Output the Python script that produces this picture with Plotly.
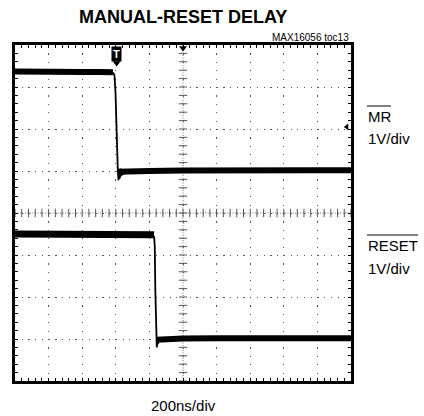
import numpy as np
import plotly.graph_objects as go

# ---------------- data (read from the scope shot) ----------------
TIME_PER_DIV_NS = 200      # 200ns/div
VOLT_PER_DIV = 1.0         # 1V/div both channels
MR_GND_DIV = 1.0           # MR ground marker position (divisions from centre)
RST_GND_DIV = -3.0         # RESET ground position

# MR channel (ns, V)
mr_high_t = [-1000, -900, -800, -700, -600, -500, -417]
mr_high_v = [2.37, 2.36, 2.37, 2.36, 2.36, 2.36, 2.35]
mr_edge_t = [-417, -408, -402, -398, -393, -388, -384, -380, -376, -372, -367, -362, -356, -348, -338, -325]
mr_edge_v = [2.35, 2.28, 1.9, 1.2, 0.55, 0.02, -0.22, -0.05, -0.18, 0.06, -0.12, 0.04, -0.08, 0.02, -0.04, 0.0]
mr_low_t = [-386, -300, -200, 0, 200, 400, 600, 800, 1000]
mr_low_v = [-0.02, 0.0, 0.0, 0.01, 0.02, 0.02, 0.02, 0.02, 0.02]

# RESET channel (ns, V)
rst_high_t = [-1000, -800, -600, -400, -250, -172]
rst_high_v = [2.50, 2.50, 2.49, 2.48, 2.48, 2.48]
rst_edge_t = [-172, -168, -165, -162, -159, -156, -153, -149, -145, -140]
rst_edge_v = [2.45, 2.2, 1.2, 0.3, -0.02, -0.2, -0.04, -0.12, -0.02, 0.0]
rst_low_t = [-158, -100, 0, 200, 400, 600, 800, 1000]
rst_low_v = [-0.02, 0.0, 0.01, 0.02, 0.02, 0.02, 0.02, 0.02]

TRIGGER_T = -395           # trigger point marker (ns)
TRIGGER_LEVEL_V = 1.05     # trigger level on MR channel (V)


def to_div(v, gnd):
    return [x / VOLT_PER_DIV + gnd for x in v]


fig = go.Figure()

# grid centre cross-hair with fine ticks
cx_y = np.arange(-4, 4.001, 0.2)
cy_x = np.arange(-1000, 1000.1, TIME_PER_DIV_NS / 5)
fig.add_trace(go.Scatter(x=[0, 0], y=[-4, 4], mode="lines",
                         line=dict(color="#777", width=1, dash="1px,1.5px"),
                         hoverinfo="skip", showlegend=False))
fig.add_trace(go.Scatter(x=[-1000, 1000], y=[0, 0], mode="lines",
                         line=dict(color="#777", width=1, dash="1px,1.5px"),
                         hoverinfo="skip", showlegend=False))
fig.add_trace(go.Scatter(x=[0] * len(cx_y), y=cx_y, mode="markers",
                         marker=dict(symbol="line-ew", size=6,
                                     line=dict(color="#555", width=1)),
                         hoverinfo="skip", showlegend=False))
fig.add_trace(go.Scatter(x=cy_x, y=[0] * len(cy_x), mode="markers",
                         marker=dict(symbol="line-ns", size=6,
                                     line=dict(color="#555", width=1)),
                         hoverinfo="skip", showlegend=False))

# waveforms
def add_wave(t, v, gnd, width):
    fig.add_trace(go.Scatter(x=t, y=to_div(v, gnd), mode="lines",
                             line=dict(color="black", width=width),
                             hoverinfo="skip", showlegend=False))

add_wave(mr_high_t, mr_high_v, MR_GND_DIV, 6)
add_wave(mr_edge_t, mr_edge_v, MR_GND_DIV, 1.8)
add_wave(mr_low_t, mr_low_v, MR_GND_DIV, 6)
add_wave(rst_high_t, rst_high_v, RST_GND_DIV, 7)
add_wave(rst_edge_t, rst_edge_v, RST_GND_DIV, 1.8)
add_wave(rst_low_t, rst_low_v, RST_GND_DIV, 6)

# markers: centre-top triangle, trigger level arrow
fig.add_trace(go.Scatter(x=[0], y=[3.93], mode="markers",
                         marker=dict(symbol="triangle-down", size=7, color="black"),
                         cliponaxis=False, hoverinfo="skip", showlegend=False))
fig.add_trace(go.Scatter(x=[975], y=[TRIGGER_LEVEL_V / VOLT_PER_DIV + MR_GND_DIV], mode="markers",
                         marker=dict(symbol="triangle-left", size=6, color="black"),
                         cliponaxis=False, hoverinfo="skip", showlegend=False))
fig.add_trace(go.Scatter(x=[TRIGGER_T], y=[3.57], mode="markers",
                         marker=dict(symbol="triangle-down", size=7, color="black"),
                         cliponaxis=False, hoverinfo="skip", showlegend=False))

FONT = "Arial, Liberation Sans, sans-serif"

annotations = [
    dict(x=TRIGGER_T, y=3.78, xref="x", yref="y", text="<b>T</b>", showarrow=False,
         font=dict(family=FONT, size=11, color="white"), bgcolor="black", borderpad=1),
    dict(x=0.5, y=1.0, xref="paper", yref="paper", yshift=28, text="<b>MANUAL-RESET DELAY</b>",
         showarrow=False, font=dict(family=FONT, size=18, color="black"),
         xanchor="center", yanchor="middle"),
    dict(x=1.0, y=1.0, xref="paper", yref="paper", yshift=8, text="MAX16056 toc13",
         showarrow=False, font=dict(family=FONT, size=10, color="black"),
         xanchor="right", yanchor="middle"),
    dict(x=0.5, y=0.0, xref="paper", yref="paper", yshift=-24, text="200ns/div",
         showarrow=False, font=dict(family=FONT, size=15, color="black"),
         xanchor="center", yanchor="middle"),
    dict(x=1.0, y=(381 - 116) / 336, xref="paper", yref="paper", xshift=15, text="MR",
         showarrow=False, font=dict(family=FONT, size=15, color="black"),
         xanchor="left", yanchor="middle"),
    dict(x=1.0, y=(381 - 138) / 336, xref="paper", yref="paper", xshift=15, text="1V/div",
         showarrow=False, font=dict(family=FONT, size=15, color="black"),
         xanchor="left", yanchor="middle"),
    dict(x=1.0, y=(381 - 245) / 336, xref="paper", yref="paper", xshift=15, text="RESET",
         showarrow=False, font=dict(family=FONT, size=15, color="black"),
         xanchor="left", yanchor="middle"),
    dict(x=1.0, y=(381 - 268) / 336, xref="paper", yref="paper", xshift=15, text="1V/div",
         showarrow=False, font=dict(family=FONT, size=15, color="black"),
         xanchor="left", yanchor="middle"),
]

# overlines for the active-low signal names
shapes = [
    dict(type="line", xref="paper", yref="paper",
         x0=(367 - 15) / 336, x1=(391 - 15) / 336,
         y0=(381 - 106) / 336, y1=(381 - 106) / 336, line=dict(color="black", width=1)),
    dict(type="line", xref="paper", yref="paper",
         x0=(367 - 15) / 336, x1=(418 - 15) / 336,
         y0=(381 - 235) / 336, y1=(381 - 235) / 336, line=dict(color="black", width=1)),
]

fig.update_layout(
    width=424, height=416,
    margin=dict(l=15, r=73, t=45, b=35),
    paper_bgcolor="white", plot_bgcolor="white",
    annotations=annotations, shapes=shapes,
    showlegend=False,
)
fig.update_xaxes(range=[-1000, 1000], dtick=TIME_PER_DIV_NS, tick0=0,
                 showgrid=True, gridcolor="#555", gridwidth=1.2, griddash="1.2px,7.2px",
                 showline=True, linecolor="black", linewidth=3, mirror="ticks",
                 ticks="inside", ticklen=3, tickcolor="black", tickwidth=1,
                 showticklabels=False, zeroline=False, fixedrange=True,
                 minor=dict(dtick=TIME_PER_DIV_NS / 5, ticks="inside", ticklen=3,
                            tickcolor="black", showgrid=False))
fig.update_yaxes(range=[-4, 4], dtick=1, tick0=0,
                 showgrid=True, gridcolor="#555", gridwidth=1.2, griddash="1.2px,5.52px",
                 showline=True, linecolor="black", linewidth=3, mirror="ticks",
                 ticks="inside", ticklen=3, tickcolor="black", tickwidth=1,
                 showticklabels=False, zeroline=False, fixedrange=True,
                 minor=dict(dtick=0.2, ticks="inside", ticklen=3,
                            tickcolor="black", showgrid=False))

fig.write_html("out.html", config={"displayModeBar": False},
               post_script="document.body.style.margin='0';document.body.style.overflow='hidden';")
